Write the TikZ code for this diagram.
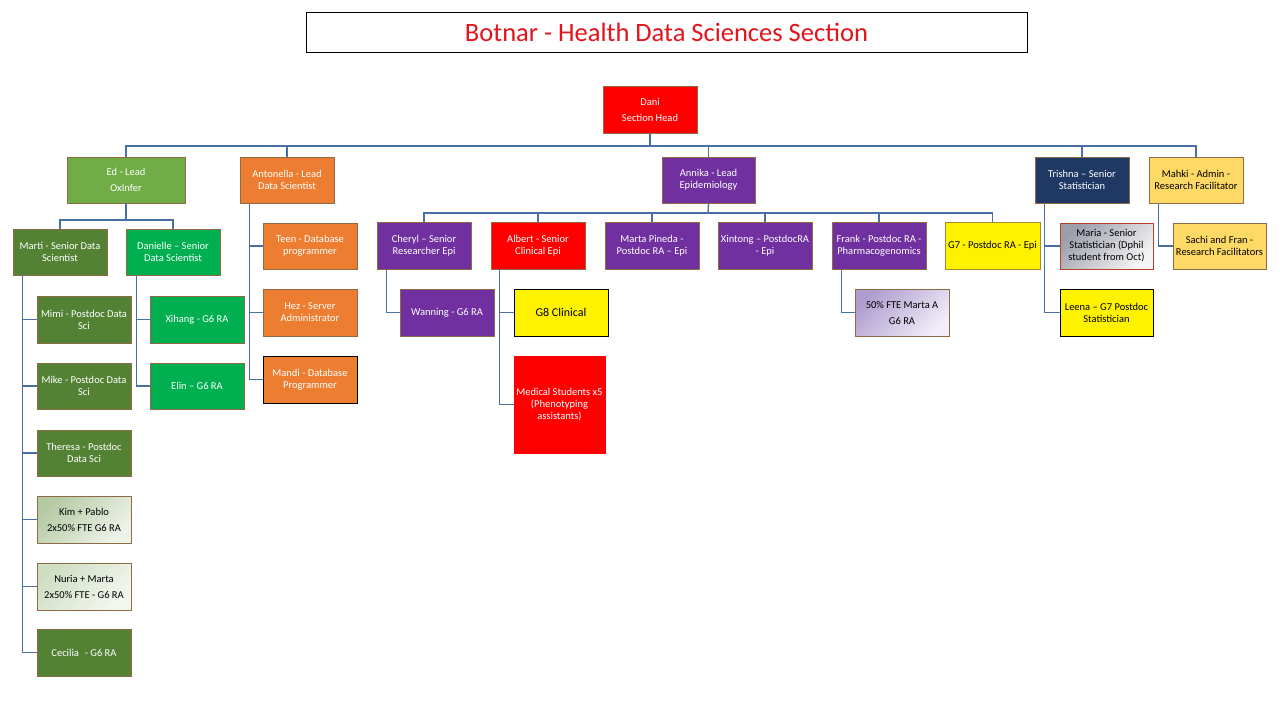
\documentclass[tikz,border=0pt]{standalone}
\usepackage{fontspec}
\setmainfont{Carlito}
\usetikzlibrary{calc}
\definecolor{bordc}{HTML}{8E6B45}
\definecolor{linec}{HTML}{4A6FA5}
\definecolor{edg}{HTML}{70AD47}
\definecolor{darkg}{HTML}{548235}
\definecolor{brg}{HTML}{00B050}
\definecolor{orng}{HTML}{ED7D31}
\definecolor{purp}{HTML}{7030A0}
\definecolor{navy}{HTML}{1F3864}
\definecolor{gold}{HTML}{FFD966}
\definecolor{titred}{HTML}{E3141B}
\definecolor{kimA}{HTML}{B5CAA3}
\definecolor{kimB}{HTML}{EEF3E9}
\definecolor{nurA}{HTML}{CFDEC3}
\definecolor{nurB}{HTML}{F3F7EF}
\definecolor{marA}{HTML}{9C9EAA}
\definecolor{marB}{HTML}{F4F4F4}
\definecolor{ftA}{HTML}{AE9DCF}
\definecolor{ftB}{HTML}{F1EDF8}
\newcommand\bx[7]{\node[box,#6,minimum width={(#4-#2)*1pt},minimum height={(#5-#3)*1pt}] (#1) at ({(#2+#4)/2},{(#3+#5)/2}) {#7};}
\begin{document}
\begin{tikzpicture}[x=1pt,y=-1pt,
  box/.style={draw=bordc, line width=0.9pt, inner sep=0pt, align=center, font=\fontsize{10.5}{12}\selectfont, text=white},
  wide/.style={font=\fontsize{10.5}{16}\selectfont},
  dark/.style={text=black},
  blk/.style={draw=black},
  conn/.style={draw=linec, line width=1.3pt}]
\fill[white] (0,0) rectangle (1280,720);
\useasboundingbox (0,0) rectangle (1280,720);
% title
\node[draw=black, line width=0.8pt, minimum width=721pt, minimum height=40pt, inner sep=0pt, text=titred, font=\fontsize{26.5}{30}\selectfont] (title) at (666.5,32) {Botnar - Health Data Sciences Section};
% head
\bx{dani}{603}{86}{697}{133}{fill=red,wide}{Dani\\Section Head}
% level 1
\bx{ed}{67}{157}{185}{203}{fill=edg,wide}{Ed - Lead\\OxInfer}
\bx{antonella}{240}{157}{334}{203}{fill=orng}{Antonella - Lead\\Data Scientist}
\bx{annika}{662}{157}{755}{203}{fill=purp}{Annika - Lead\\Epidemiology}
\bx{trishna}{1035}{157}{1129}{203}{fill=navy}{Trishna -- Senior\\Statistician}
\bx{mahki}{1149}{157}{1243}{203}{fill=gold,dark}{Mahki - Admin -\\Research Facilitator}
% Ed group
\bx{marti}{13}{229}{107}{275}{fill=darkg}{Marti - Senior Data\\Scientist}
\bx{danielle}{126}{229}{220}{275}{fill=brg}{Danielle -- Senior\\Data Scientist}
\bx{mimi}{37}{296}{131}{343}{fill=darkg}{Mimi - Postdoc Data\\Sci}
\bx{mike}{37}{363}{131}{409}{fill=darkg}{Mike - Postdoc Data\\Sci}
\bx{theresa}{37}{430}{131}{476}{fill=darkg}{Theresa - Postdoc\\Data Sci}
\bx{kim}{37}{496}{131}{543}{top color=kimA,bottom color=kimB,shading angle=45,dark,wide}{Kim + Pablo\\2x50\% FTE G6 RA}
\bx{nuria}{37}{563}{131}{610}{top color=nurA,bottom color=nurB,shading angle=45,dark,wide}{Nuria + Marta\\2x50\% FTE - G6 RA}
\bx{cecilia}{37}{629}{131}{676}{fill=darkg}{Cecilia\,\, - G6 RA}
\bx{xihang}{150}{296}{244}{343}{fill=brg}{Xihang - G6 RA}
\bx{elin}{150}{363}{244}{409}{fill=brg}{Elin -- G6 RA}
% Antonella group
\bx{teen}{263}{223}{357}{269}{fill=orng}{Teen - Database\\programmer}
\bx{hez}{263}{289}{357}{336}{fill=orng}{Hez - Server\\Administrator}
\bx{mandi}{263}{356}{357}{403}{fill=orng,blk}{Mandi - Database\\Programmer}
% Annika group
\bx{cheryl}{377}{222}{471}{269}{fill=purp}{Cheryl -- Senior\\Researcher Epi}
\bx{albert}{491}{222}{585}{269}{fill=red}{Albert - Senior\\Clinical Epi}
\bx{pineda}{605}{222}{699}{269}{fill=purp}{Marta Pineda -\\Postdoc RA -- Epi}
\bx{xintong}{718}{222}{812}{269}{fill=purp}{Xintong -- PostdocRA\\- Epi}
\bx{frank}{832}{222}{926}{269}{fill=purp}{Frank - Postdoc RA -\\Pharmacogenomics}
\bx{gseven}{945}{222}{1040}{269}{fill=yellow,dark,draw=bordc!80!yellow}{G7 - Postdoc RA - Epi}
\bx{wanning}{400}{289}{494}{336}{fill=purp}{Wanning - G6 RA}
\bx{geight}{514}{289}{608}{336}{fill=yellow,dark,blk,font=\fontsize{12}{14}\selectfont}{G8 Clinical}
\bx{medical}{514}{356}{605}{453}{fill=red,draw=red}{Medical Students x5\\(Phenotyping\\assistants)}
\bx{marta}{855}{289}{949}{336}{top color=ftA,bottom color=ftB,shading angle=45,dark,wide}{50\% FTE Marta A\\G6 RA}
% Trishna group
\bx{maria}{1060}{223}{1153}{269}{top color=marA,bottom color=marB,shading angle=45,dark,draw=bordc!60!red}{Maria - Senior\\Statistician (Dphil\\student from Oct)}
\bx{leena}{1060}{289}{1153}{336}{fill=yellow,dark,blk}{Leena -- G7 Postdoc\\Statistician}
% Mahki group
\bx{sachi}{1173}{223}{1266}{269}{fill=gold,dark}{Sachi and Fran -\\Research Facilitators}
% connectors
\coordinate (bus) at (650,146);
\draw[conn] (dani.south) -- (bus);
\foreach \n in {ed,antonella,annika,trishna,mahki} \draw[conn] (\n.north) |- (bus);
\coordinate (edbus) at (126,220);
\draw[conn] (ed.south) -- (edbus);
\foreach \n in {marti,danielle} \draw[conn] (\n.north) |- (edbus);
\coordinate (abus) at (708,213);
\draw[conn] (annika.south) -- (abus);
\foreach \n in {cheryl,albert,pineda,xintong,frank,gseven} \draw[conn] (\n.north) |- (abus);
\foreach \n in {mimi,mike,theresa,kim,nuria,cecilia} \draw[conn] ([xshift=10pt]marti.south west) |- (\n.west);
\foreach \n in {xihang,elin} \draw[conn] ([xshift=11pt]danielle.south west) |- (\n.west);
\foreach \n in {teen,hez,mandi} \draw[conn] ([xshift=10pt]antonella.south west) |- (\n.west);
\draw[conn] ([xshift=10pt]cheryl.south west) |- (wanning.west);
\foreach \n in {geight,medical} \draw[conn] ([xshift=9pt]albert.south west) |- (\n.west);
\draw[conn] ([xshift=10pt]frank.south west) |- (marta.west);
\foreach \n in {maria,leena} \draw[conn] ([xshift=10pt]trishna.south west) |- (\n.west);
\draw[conn] ([xshift=10pt]mahki.south west) |- (sachi.west);
\end{tikzpicture}
\end{document}
